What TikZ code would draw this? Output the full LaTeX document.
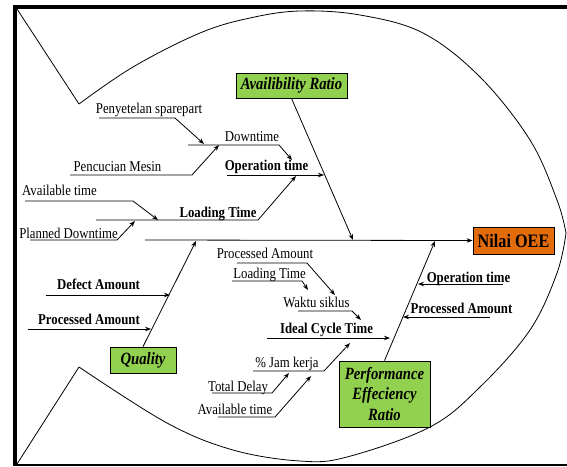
\documentclass[tikz,border=0pt]{standalone}
\usepackage{fontspec}
\setmainfont[FakeStretch=0.853]{Liberation Serif}
\usetikzlibrary{arrows.meta}
\definecolor{boxgreen}{RGB}{146,208,80}
\definecolor{boxorange}{RGB}{227,108,10}
\begin{document}
\begin{tikzpicture}[x=1pt,y=-1pt,
  line/.style={line width=0.8pt},
  arr/.style={line width=0.8pt,-{Stealth[length=6pt,width=4.5pt]}},
  lbl/.style={font=\fontsize{15}{16}\selectfont, anchor=base, inner sep=0pt},
  blbl/.style={lbl, font=\fontsize{15}{16}\selectfont\bfseries},
  gbox/.style={draw, fill=boxgreen, line width=0.8pt, font=\fontsize{17.2}{20.5}\selectfont\bfseries\itshape, align=center, inner sep=0pt},
  obox/.style={draw, fill=boxorange, line width=0.8pt, font=\fontsize{19}{21}\selectfont\bfseries, inner sep=0pt},
]
\useasboundingbox (0,0) rectangle (567,466);
% frame
\draw[line width=4pt] (13,7) -- (567,7);
\draw[line width=4pt] (15,5) -- (15,466);
\draw[line width=1.2pt] (15,465) -- (567,465);
% fish outline
\draw[line] (17,9) -- (79,104);
\draw[line] plot[smooth,tension=0.6] coordinates {(79,104) (133,67) (200,33) (250,18) (300,11) (360,15) (423,33) (480,77) (530,140) (557,200) (566,233)};
\draw[line] plot[smooth,tension=0.6] coordinates {(566,233) (557,273) (530,330) (480,387) (430,427) (347,457) (300,461) (233,450) (167,423) (79,367)};
\draw[line] (79,367) -- (17,464);
% boxes
\node[gbox, minimum width=111pt, minimum height=25pt] (avail) at (291.5,85.5) {Availibility Ratio};
\node[gbox, minimum width=66pt, minimum height=26pt] (quality) at (143,360) {Quality};
\node[gbox, minimum width=91pt, minimum height=66pt] (perf) at (384.5,394) {Performance\\Effeciency\\Ratio};
\node[obox, minimum width=81pt, minimum height=27pt] (oee) at (513.5,240.5) {Nilai OEE};
% coordinates
\coordinate (sp0) at (145,240);
\coordinate (avS) at (353,240);
\coordinate (qS) at (196,241);
\coordinate (pS) at (435,241);
\coordinate (op0) at (227,175); \coordinate (op1) at (324,175);
\coordinate (lt0) at (96,220); \coordinate (lt1) at (258,220); \coordinate (lt2) at (296,176);
\coordinate (dt0) at (188,145); \coordinate (dt1) at (279,145); \coordinate (dt2) at (292,160);
\coordinate (ps0) at (99,118); \coordinate (ps1) at (175,118); \coordinate (ps2) at (204,144);
\coordinate (pm0) at (70,175); \coordinate (pm1) at (192,175); \coordinate (pm2) at (219,145);
\coordinate (at0) at (25,201); \coordinate (at1) at (133,201); \coordinate (at2) at (158,220);
\coordinate (pd0) at (30,240); \coordinate (pd1) at (117,240); \coordinate (pd2) at (135,221);
\coordinate (da0) at (46,295); \coordinate (da1) at (170,295);
\coordinate (pa0) at (28,329); \coordinate (pa1) at (151,329);
\coordinate (or0) at (503,284); \coordinate (or1) at (418,284);
\coordinate (pr0) at (490,317); \coordinate (pr1) at (403,317);
\coordinate (ic0) at (267,338); \coordinate (ic1) at (390,338);
\coordinate (ws0) at (298,311); \coordinate (ws1) at (352,311); \coordinate (ws2) at (361,320);
\coordinate (pq0) at (237,263); \coordinate (pq1) at (307,263); \coordinate (pq2) at (335,295);
\coordinate (lm0) at (232,281); \coordinate (lm1) at (302,281); \coordinate (lm2) at (308,290);
\coordinate (jk0) at (253,371); \coordinate (jk1) at (324,371); \coordinate (jk2) at (350,343);
\coordinate (td0) at (212,393); \coordinate (td1) at (272,393); \coordinate (td2) at (289,373);
\coordinate (ab0) at (218,417); \coordinate (ab1) at (275,417); \coordinate (ab2) at (311,376);
% connectors
\draw[arr] (sp0) -- (oee.west);
\draw[arr] (avail.south) -- (avS);
\draw[arr] (quality.north) -- (qS);
\draw[arr] (perf.north) -- (pS);
\draw[arr] (op0) -- (op1);
\draw[arr] (lt0) -- (lt1) -- (lt2);
\draw[arr] (dt0) -- (dt1) -- (dt2);
\draw[arr] (ps0) -- (ps1) -- (ps2);
\draw[arr] (pm0) -- (pm1) -- (pm2);
\draw[arr] (at0) -- (at1) -- (at2);
\draw[arr] (pd0) -- (pd1) -- (pd2);
\draw[arr] (da0) -- (da1);
\draw[arr] (pa0) -- (pa1);
\draw[arr] (or0) -- (or1);
\draw[arr] (pr0) -- (pr1);
\draw[arr] (ic0) -- (ic1);
\draw[arr] (ws0) -- (ws1) -- (ws2);
\draw[arr] (pq0) -- (pq1) -- (pq2);
\draw[arr] (lm0) -- (lm1) -- (lm2);
\draw[arr] (jk0) -- (jk1) -- (jk2);
\draw[arr] (td0) -- (td1) -- (td2);
\draw[arr] (ab0) -- (ab1) -- (ab2);
% labels
\node[lbl] (tps) at (149,113.5) {Penyetelan sparepart};
\node[lbl] (tdt) at (252,141) {Downtime};
\node[lbl] (tpm) at (117.5,171) {Pencucian Mesin};
\node[blbl] (top) at (266.5,170) {Operation time};
\node[lbl] (tat) at (59.5,195) {Available time};
\node[blbl] (tlt) at (218,217) {Loading Time};
\node[lbl] (tpd) at (68.5,238) {Planned Downtime};
\node[blbl] (tda) at (98.5,289) {Defect Amount};
\node[blbl] (tpa) at (89,324) {Processed Amount};
\node[lbl] (tpq) at (265,258) {Processed Amount};
\node[lbl] (tlm) at (269.5,278) {Loading Time};
\node[lbl] (tws) at (316.5,307) {Waktu siklus};
\node[blbl] (tic) at (326.5,333) {Ideal Cycle Time};
\node[lbl] (tjk) at (287,367) {\% Jam kerja};
\node[lbl] (ttd) at (238,391) {Total Delay};
\node[lbl] (tab) at (235,414) {Available time};
\node[blbl] (tor) at (468.5,282) {Operation time};
\node[blbl] (tpr) at (461.5,313) {Processed Amount};
\end{tikzpicture}
\end{document}
